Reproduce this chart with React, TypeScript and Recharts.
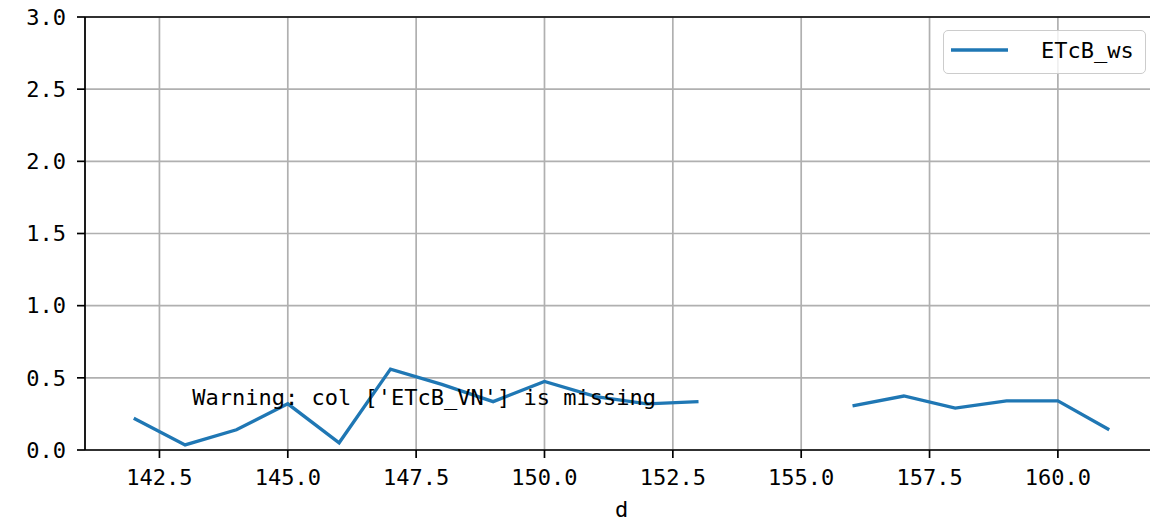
import React from 'react';
import {
  LineChart,
  Line,
  XAxis,
  YAxis,
  CartesianGrid,
  Legend,
  ReferenceLine,
  ReferenceDot,
} from 'recharts';

const days = [142, 143, 144, 145, 146, 147, 148, 149, 150, 151, 152, 153, 154, 155, 156, 157, 158, 159, 160, 161];
const etcbWs: (number | null)[] = [
  0.22, 0.035, 0.14, 0.32, 0.05, 0.56, 0.455, 0.335, 0.475, 0.37, 0.32, 0.335,
  null, null, 0.305, 0.374, 0.29, 0.34, 0.34, 0.14,
];
const xTicks = [142.5, 145, 147.5, 150, 152.5, 155, 157.5, 160];
const yTicks = [0, 0.5, 1, 1.5, 2, 2.5, 3];
const seriesName = 'ETcB_ws';
const warningText = "Warning: col ['ETcB_VN'] is missing";
const warningPos = { d: 143.14, v: 0.31 };
const xLabel = 'd';

const data = days.map((d, i) => ({ d, ETcB_ws: etcbWs[i] }));

const FONT = '"DejaVu Sans Mono", "Liberation Mono", monospace';
const BLUE = '#1f77b4';
const AX = { stroke: '#000', strokeWidth: 1.7 };
const GHOST_AX = { stroke: '#000', strokeWidth: 2 };

const WarningLabel = (props: any) => {
  const vb = props.viewBox || {};
  const x = (vb.x ?? 0) + (vb.width ?? 0) / 2;
  const y = (vb.y ?? 0) + (vb.height ?? 0) / 2;
  return (
    <text x={x} y={y} fontFamily={FONT} fontSize={22} fill="#000" textAnchor="start" style={{ whiteSpace: 'pre' }}>
      {warningText}
    </text>
  );
};

const XLabel = (props: any) => {
  const vb = props.viewBox || {};
  return (
    <text x={vb.x + vb.width / 2} y={vb.y + 67} fontFamily={FONT} fontSize={22} fill="#000" textAnchor="middle">
      {xLabel}
    </text>
  );
};

const LegendBox = () => (
  <div
    style={{
      width: 203,
      height: 44,
      boxSizing: 'border-box',
      border: '1.7px solid #cccccc',
      borderRadius: 5,
      background: 'rgba(255,255,255,0.8)',
      position: 'relative',
    }}
  >
    <svg width={203} height={44} style={{ position: 'absolute', left: -1.7, top: -1.7 }}>
      <line x1={9} x2={66} y1={21} y2={21} stroke={BLUE} strokeWidth={3.3} />
      <text x={99} y={29} fontFamily={FONT} fontSize={22} fill="#000">
        {seriesName}
      </text>
    </svg>
  </div>
);

export default function App() {
  return (
    <div style={{ marginLeft: -8, marginTop: -8, width: 1158, height: 521, position: 'relative', background: '#fff' }}>
      <LineChart width={1158} height={521} data={data} margin={{ top: 17, right: 0, bottom: 0, left: 0 }}>
        <CartesianGrid stroke="#b0b0b0" strokeWidth={1.7} />
        <XAxis
          dataKey="d"
          type="number"
          domain={[141.05, 161.95]}
          allowDataOverflow
          ticks={xTicks}
          tickFormatter={(v: number) => v.toFixed(1)}
          height={71}
          tickSize={8}
          tickMargin={11}
          axisLine={AX}
          tickLine={AX}
          tick={{ fontFamily: FONT, fontSize: 22, fill: '#000' }}
          label={<XLabel />}
        />
        <YAxis
          type="number"
          domain={[0, 3]}
          allowDataOverflow
          ticks={yTicks}
          tickFormatter={(v: number) => v.toFixed(1)}
          width={80}
          tickSize={8}
          tickMargin={11}
          axisLine={AX}
          tickLine={AX}
          tick={{ fontFamily: FONT, fontSize: 22, fill: '#000' }}
        />
        <YAxis
          yAxisId="ghost"
          type="number"
          domain={[0, 3]}
          allowDataOverflow
          ticks={yTicks}
          width={5}
          tickSize={5}
          tickMargin={0}
          tickFormatter={() => ''}
          axisLine={GHOST_AX}
          tickLine={GHOST_AX}
        />
        <ReferenceLine y={3} stroke="#000" strokeWidth={1.7} />
        <Line
          yAxisId="ghost"
          type="linear"
          dataKey="ETcB_ws"
          stroke="none"
          legendType="none"
          dot={false}
          activeDot={false}
          isAnimationActive={false}
        />
        <Line
          type="linear"
          dataKey="ETcB_ws"
          name={seriesName}
          stroke={BLUE}
          strokeWidth={3.3}
          dot={false}
          connectNulls={false}
          isAnimationActive={false}
        />
        <ReferenceDot
          x={warningPos.d}
          y={warningPos.v}
          r={1}
          fill="none"
          stroke="none"
          label={<WarningLabel />}
        />
        <Legend
          layout="horizontal"
          verticalAlign="middle"
          align="center"
          content={<LegendBox />}
          wrapperStyle={{ position: 'absolute', left: 943, top: 30, width: 203, height: 44 }}
        />
      </LineChart>
    </div>
  );
}
